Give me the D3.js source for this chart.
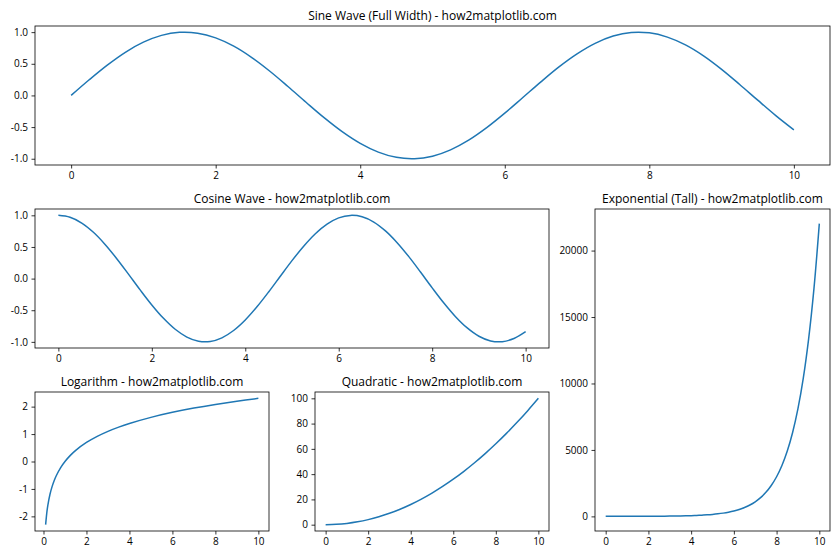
<!DOCTYPE html>
<html>
<head>
<meta charset="utf-8">
<script src="https://cdn.jsdelivr.net/npm/d3@7"></script>
<style>
  html, body { margin: 0; padding: 0; background: #fff; }
  svg { display: block; }
  text { font-family: "Open Sans", "Noto Sans", sans-serif; fill: #000; }
</style>
</head>
<body>
<svg id="chart" width="840" height="560"></svg>
<script>
// ---------- data ----------
const waveX = [0,0.25,0.5,0.75,1,1.25,1.5,1.75,2,2.25,2.5,2.75,3,3.25,3.5,3.75,4,4.25,4.5,4.75,5,
               5.25,5.5,5.75,6,6.25,6.5,6.75,7,7.25,7.5,7.75,8,8.25,8.5,8.75,9,9.25,9.5,9.75,10];
const sineY = [0,0.247,0.479,0.682,0.841,0.949,0.997,0.984,0.909,0.778,0.598,0.382,0.141,-0.108,-0.351,
               -0.572,-0.757,-0.895,-0.978,-0.999,-0.959,-0.859,-0.706,-0.508,-0.279,-0.033,0.215,0.451,
               0.657,0.823,0.938,0.995,0.989,0.921,0.798,0.625,0.412,0.173,-0.075,-0.319,-0.544];
const cosineY = [1,0.969,0.878,0.732,0.540,0.315,0.071,-0.178,-0.416,-0.628,-0.801,-0.924,-0.990,-0.994,
                 -0.936,-0.820,-0.654,-0.446,-0.211,0.038,0.284,0.512,0.709,0.861,0.960,0.999,0.977,0.894,
                 0.754,0.568,0.347,0.104,-0.146,-0.386,-0.602,-0.780,-0.911,-0.985,-0.997,-0.946,-0.839];
const expY = [1,1.28,1.65,2.12,2.72,3.49,4.48,5.75,7.39,9.49,12.2,15.6,20.1,25.8,33.1,42.5,54.6,70.1,90.0,
              115.6,148.4,190.6,244.7,314.2,403.4,518.0,665.1,854.1,1096.6,1408.1,1808.0,2321.6,2981.0,
              3827.6,4914.8,6310.7,8103.1,10404.6,13359.7,17154.2,22026.5];
const logX = [0.1,0.15,0.2,0.3,0.4,0.5,0.6,0.8,1,1.25,1.5,2,2.5,3,3.5,4,5,6,7,8,9,10];
const logY = [-2.303,-1.897,-1.609,-1.204,-0.916,-0.693,-0.511,-0.223,0,0.223,0.405,0.693,0.916,1.099,
              1.253,1.386,1.609,1.792,1.946,2.079,2.197,2.303];
const quadX = [0,0.5,1,1.5,2,2.5,3,3.5,4,4.5,5,5.5,6,6.5,7,7.5,8,8.5,9,9.5,10];
const quadY = [0,0.25,1,2.25,4,6.25,9,12.25,16,20.25,25,30.25,36,42.25,49,56.25,64,72.25,81,90.25,100];

const xTicks = [0,2,4,6,8,10];
const waveTicks = [-1.0,-0.5,0.0,0.5,1.0];
const expTicks = [0,5000,10000,15000,20000];
const logTicks = [-2,-1,0,1,2];
const quadTicks = [0,20,40,60,80,100];

const titles = [
  "Sine Wave (Full Width) - how2matplotlib.com",
  "Cosine Wave - how2matplotlib.com",
  "Exponential (Tall) - how2matplotlib.com",
  "Logarithm - how2matplotlib.com",
  "Quadratic - how2matplotlib.com"
];

// ---------- drawing ----------
const svg = d3.select("#chart");
const LINE = "#1f77b4";

function pad(ext) { const m = (ext[1]-ext[0])*0.05; return [ext[0]-m, ext[1]+m]; }

function panel(box, xs, ys, yTicks, yFmt, title) {
  const [l, t, r, b] = box;
  const x = d3.scaleLinear().domain(pad(d3.extent(xs))).range([l, r]);
  const y = d3.scaleLinear().domain(pad(d3.extent(ys))).range([b, t]);
  const g = svg.append("g");

  const xa = g.append("g").attr("transform", `translate(0,${b})`)
    .call(d3.axisBottom(x).tickValues(xTicks).tickFormat(d3.format("d")).tickSize(3.5).tickPadding(3.5));
  const ya = g.append("g").attr("transform", `translate(${l},0)`)
    .call(d3.axisLeft(y).tickValues(yTicks).tickFormat(yFmt).tickSize(3.5).tickPadding(3.5));
  [xa, ya].forEach(a => {
    a.select(".domain").remove();
    a.selectAll(".tick line").attr("stroke", "#000").attr("stroke-width", 0.8);
    a.selectAll(".tick text").attr("font-size", 10).attr("font-family", null).style("fill", "#000");
  });

  const line = d3.line().x(d => x(d[0])).y(d => y(d[1])).curve(d3.curveCatmullRom.alpha(0.5));
  g.append("path").datum(xs.map((v, i) => [v, ys[i]]))
    .attr("d", line).attr("fill", "none").attr("stroke", LINE).attr("stroke-width", 1.5);

  g.append("rect").attr("x", l).attr("y", t).attr("width", r - l).attr("height", b - t)
    .attr("fill", "none").attr("stroke", "#000").attr("stroke-width", 0.8);

  g.append("text").attr("x", (l + r) / 2).attr("y", t - 6).attr("text-anchor", "middle")
    .attr("font-size", 12).text(title);
}

const fmt1 = v => d3.format(".1f")(v).replace("−", "-");
const fmtD = v => d3.format("d")(v).replace("−", "-");

panel([35, 26, 830, 165], waveX, sineY, waveTicks, fmt1, titles[0]);
panel([35, 209, 549, 348], waveX, cosineY, waveTicks, fmt1, titles[1]);
panel([595, 209, 830, 531], waveX, expY, expTicks, fmtD, titles[2]);
panel([35, 392, 269, 531], logX, logY, logTicks, fmtD, titles[3]);
panel([315, 392, 549, 531], quadX, quadY, quadTicks, fmtD, titles[4]);
</script>
</body>
</html>
